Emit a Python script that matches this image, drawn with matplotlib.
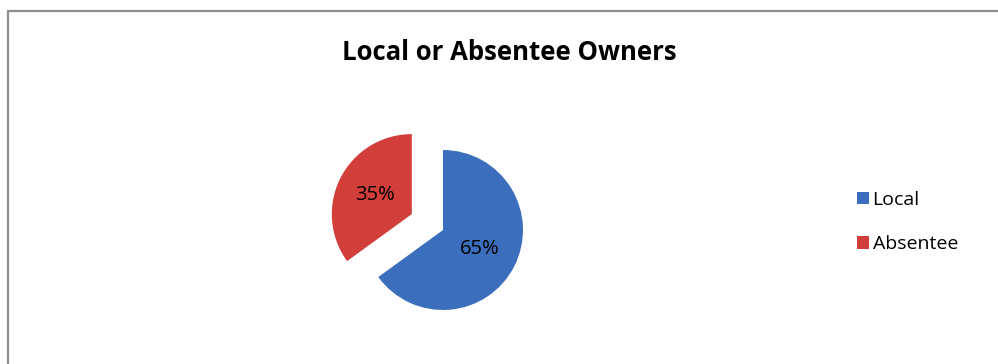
import matplotlib
matplotlib.use("Agg")
import matplotlib.pyplot as plt
from matplotlib.patches import Rectangle

categories = ["Local", "Absentee"]
values = [65, 35]
colors = ["#3b6fbd", "#d23f3a"]
title = "Local or Absentee Owners"

W, H = 998, 364
fig = plt.figure(figsize=(W / 100, H / 100), dpi=100)
plt.rcParams['font.family'] = ['Open Sans', 'DejaVu Sans']

ax = fig.add_axes([0, 0, 1, 1])

wedges, texts, autotexts = ax.pie(
    values, colors=colors, startangle=90, counterclock=False,
    explode=[0, 35], center=(443, H - 230), radius=80,
    autopct='%d%%', pctdistance=0.52,
    textprops=dict(fontsize=14.5, color='black'),
    frame=True,
)
ax.set_xlim(0, W)
ax.set_ylim(0, H)
ax.set_aspect('equal')
ax.axis('off')

fig.text(509 / W, 1 - 53 / H, title, ha='center', va='center',
         fontsize=18.5, fontweight='bold')

leg = fig.legend(wedges, categories, loc='upper left',
                 bbox_to_anchor=(857 / W, 1 - 191 / H),
                 frameon=False, fontsize=14, handlelength=0.6,
                 handleheight=0.6, handletextpad=0.2, labelspacing=1.35,
                 borderpad=0, borderaxespad=0)

fig.add_artist(Rectangle((8 / W, -0.1), 1.2, 1 - 11 / H + 0.1,
                         transform=fig.transFigure, fill=False,
                         edgecolor='#8c8c8c', linewidth=1.6))

fig.savefig("out.png", dpi=100)
